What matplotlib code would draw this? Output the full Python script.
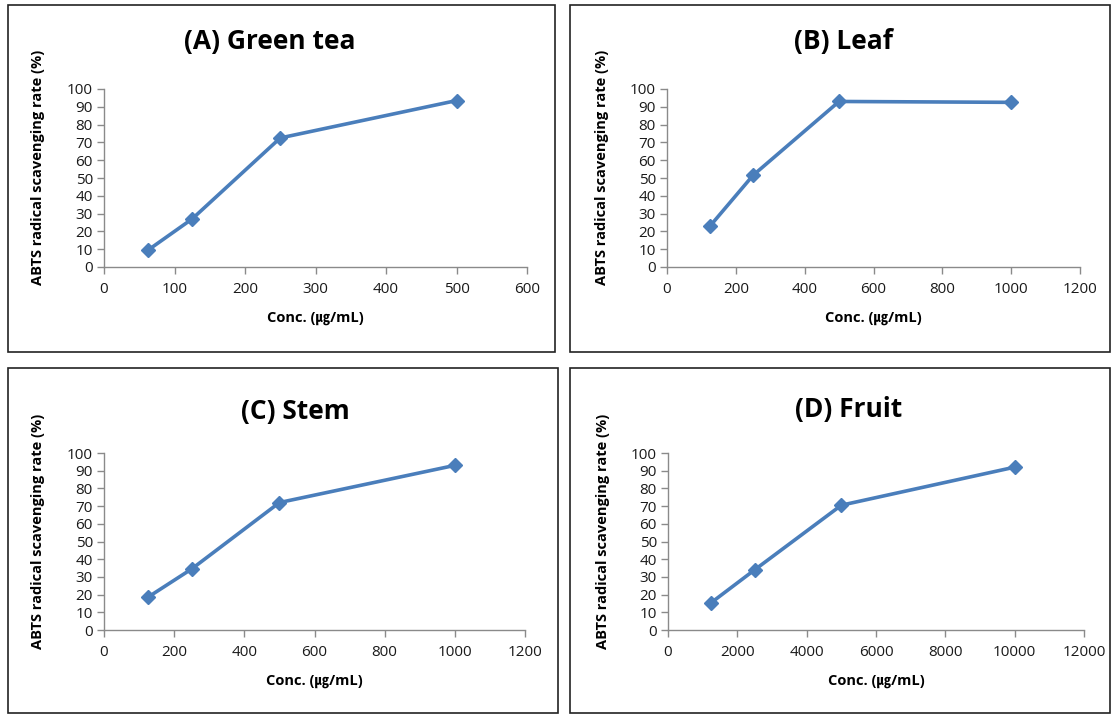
import matplotlib.pyplot as plt
from matplotlib.patches import Rectangle

plt.rcParams['font.family'] = ['Open Sans', 'Noto Sans CJK KR', 'DejaVu Sans']

# ABTS radical scavenging data for each extract
titles = ["(A) Green tea", "(B) Leaf", "(C) Stem", "(D) Fruit"]
conc_a = [62.5, 125, 250, 500]
rate_a = [9.5, 27, 72.5, 93.5]
conc_b = [125, 250, 500, 1000]
rate_b = [23, 51.5, 93, 92.5]
conc_c = [125, 250, 500, 1000]
rate_c = [18.5, 34.5, 72, 93]
conc_d = [1250, 2500, 5000, 10000]
rate_d = [15.5, 34, 70.5, 92]
xmax = [600, 1200, 1200, 12000]
xstep = [100, 200, 200, 2000]

W, H = 1113, 715
fig = plt.figure(figsize=(W / 100, H / 100), dpi=100)

def px(x0, y0, x1, y1):
    # pixel box (top-left origin) -> figure fraction [left, bottom, width, height]
    return [x0 / W, 1 - y1 / H, (x1 - x0) / W, (y1 - y0) / H]

frames = [(8, 5, 555, 352), (570, 5, 1110, 352), (8, 368, 558, 713), (570, 368, 1110, 713)]
axboxes = [(104, 89, 527, 267), (667, 89, 1080, 267), (104, 453, 525, 630), (668, 453, 1084, 630)]
title_pos = [(270, 42), (843, 41), (295, 411), (849, 410)]
data = [(conc_a, rate_a), (conc_b, rate_b), (conc_c, rate_c), (conc_d, rate_d)]

blue = "#4a7ebb"
spine_c = "#8a8a8a"

for i in range(4):
    fx0, fy0, fx1, fy1 = frames[i]
    fig.patches.append(Rectangle((fx0 / W, 1 - fy1 / H), (fx1 - fx0) / W, (fy1 - fy0) / H,
                                 transform=fig.transFigure, fill=False,
                                 edgecolor="#222222", linewidth=1.2))

    ax = fig.add_axes(px(*axboxes[i]))
    x, y = data[i]
    ax.plot(x, y, color=blue, linewidth=2.6, marker="D", markersize=7,
            markerfacecolor=blue, markeredgecolor=blue, clip_on=False)
    ax.set_xlim(0, xmax[i])
    ax.set_ylim(0, 100)
    ax.set_xticks(range(0, xmax[i] + 1, xstep[i]))
    ax.set_yticks(range(0, 101, 10))
    for s in ["top", "right"]:
        ax.spines[s].set_visible(False)
    for s in ["left", "bottom"]:
        ax.spines[s].set_color(spine_c)
        ax.spines[s].set_linewidth(1.0)
    ax.tick_params(direction="out", length=5, width=1.0, color=spine_c,
                   labelsize=11, labelcolor="#1a1a1a", pad=3)
    ax.tick_params(axis="x", pad=6)

    ax.set_ylabel("ABTS radical scavenging rate (%)", fontsize=10.5, fontweight="bold")
    ax.yaxis.set_label_coords(-0.14, 0.56)
    ax.set_xlabel("Conc. (㎍/mL)", fontsize=10.5, fontweight="bold", labelpad=10)

    tx, ty = title_pos[i]
    fig.text(tx / W, 1 - ty / H, titles[i], ha="center", va="center",
             fontsize=19, fontweight="bold")

fig.savefig("out.png", dpi=100)
